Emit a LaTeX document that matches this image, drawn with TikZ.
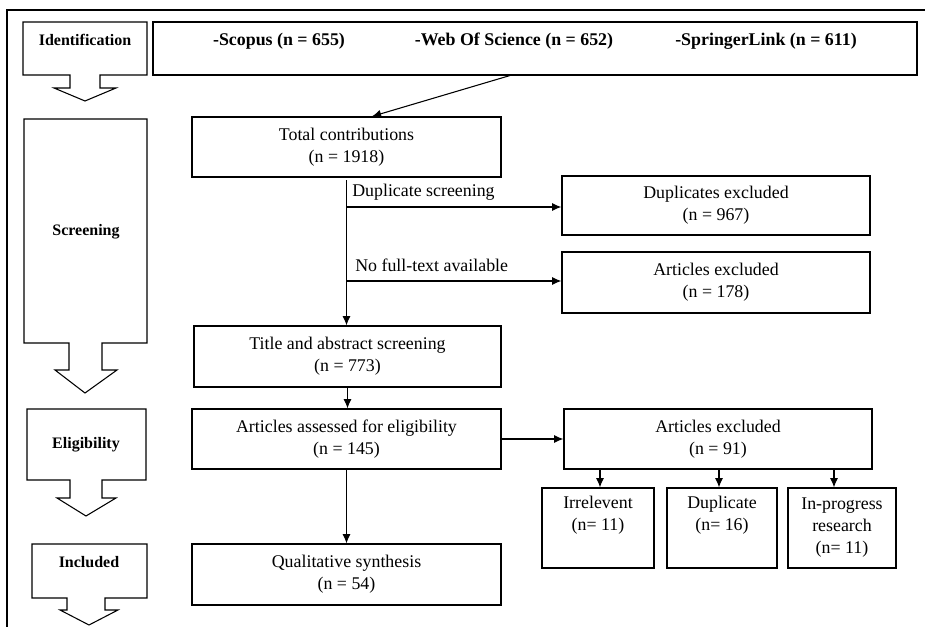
\documentclass[tikz,border=0pt]{standalone}
\usepackage{fontspec}
\setmainfont{Liberation Serif}
\usetikzlibrary{arrows.meta,positioning}

\begin{document}
\begin{tikzpicture}[x=0.75pt,y=-0.75pt,
  box/.style={draw,line width=0.8pt,align=center,inner sep=0pt,
    font=\fontsize{13.4}{16.5}\selectfont},
  subbox/.style={box,minimum width=#1,minimum height=60pt},
  srctext/.style={font=\fontsize{13.4}{16.5}\selectfont\bfseries},
  phase/.style={draw,line width=0.8pt},
  phasetext/.style={font=\fontsize{12}{14}\selectfont\bfseries},
  link/.style={line width=0.8pt,-{Latex[length=7pt,width=6pt]}},
  branch/.style={font=\fontsize{13.4}{16.5}\selectfont,inner sep=0pt,anchor=base west}]
  \useasboundingbox (0,0) rectangle (925,627);
  \draw [line width=1.6pt] (7,627) -- (7,10) -- (925,10);

  % stage arrows on the left
  \draw [phase] (23,22) -- (147,22) -- (147,75) -- (100,75) -- (100,88) -- (116,88) -- (85,101)
    -- (54,88) -- (70,88) -- (70,75) -- (23,75) -- cycle;
  \draw [phase] (24,119) -- (147,119) -- (147,343) -- (102,343) -- (102,370) -- (117,370) -- (85,393)
    -- (55,370) -- (69,370) -- (69,343) -- (24,343) -- cycle;
  \draw [phase] (27,409) -- (146,409) -- (146,480) -- (102,480) -- (102,498) -- (116,498) -- (86,516)
    -- (57,498) -- (70,498) -- (70,480) -- (27,480) -- cycle;
  \draw [phase] (32,544) -- (147,544) -- (147,598) -- (105,598) -- (105,610) -- (118,610) -- (89,625)
    -- (60,610) -- (67,610) -- (67,598) -- (32,598) -- cycle;
  \node [phasetext] (ident) at (85,40) {Identification};
  \node [phasetext] (screen) at (86,232) {Screening};
  \node [phasetext] (elig) at (86,445) {Eligibility};
  \node [phasetext] (incl) at (89,562) {Included};

  % sources
  \node [box,minimum width=573pt,minimum height=39.75pt] (src) at (535,48.5) {};
  \node [srctext] (scopus) at (279,41) {-Scopus (n = 655)};
  \node [srctext] (wos) at (514,41) {-Web Of Science (n = 652)};
  \node [srctext] (springer) at (766,41) {-SpringerLink (n = 611)};

  % main column
  \node [box,minimum width=231.75pt,minimum height=45pt] (total) at (346.5,147) {Total contributions\\(n = 1918)};
  \node [box,minimum width=230.25pt,minimum height=45.75pt] (title) at (347.5,356.5) {Title and abstract screening\\(n = 773)};
  \node [box,minimum width=231.75pt,minimum height=45pt] (assess) at (346.5,439) {Articles assessed for eligibility\\(n = 145)};
  \node [box,minimum width=231.75pt,minimum height=45.75pt] (qual) at (346.5,574.5) {Qualitative synthesis\\(n = 54)};

  % exclusions
  \node [box,minimum width=231pt,minimum height=44.25pt] (dupex) at (716,205.5) {Duplicates excluded\\(n = 967)};
  \node [box,minimum width=231pt,minimum height=45.75pt] (ftex) at (716,282.5) {Articles excluded\\(n = 178)};
  \node [box,minimum width=231pt,minimum height=45pt] (artex) at (718,439) {Articles excluded\\(n = 91)};
  \node [subbox=84pt] (irr) at (598,528) {Irrelevent\\(n= 11)\\\strut};
  \node [subbox=82.5pt] (dupl) at (722,528) {Duplicate\\(n= 16)\\\strut};
  \node [subbox=81pt] (prog) at (842,528) {In-progress\\research\\(n= 11)};

  \draw [link] ([xshift=-18.75pt]src.south) -- ([xshift=19pt]total.north);
  \draw [link] ([yshift=-2pt]total.south) -- (total.south |- title.north);
  \draw [link] (total.south |- 0,207) -- (dupex.west |- 0,207);
  \draw [link] (total.south |- 0,281) -- (ftex.west |- 0,281);
  \node [branch] (dupscr) at (352,197) {Duplicate screening};
  \node [branch] (nofull) at (355,271.5) {No full-text available};
  \draw [link] (title.south) -- (title.south |- assess.north);
  \draw [link] (assess.east) -- (artex.west);
  \draw [link] (assess.south) -- (qual.north);
  \draw [link] (artex.south -| 600,0) -- (600,0 |- irr.north);
  \draw [link] (artex.south -| 719,0) -- (719,0 |- dupl.north);
  \draw [link] (artex.south -| 834,0) -- (834,0 |- prog.north);
\end{tikzpicture}
\end{document}
